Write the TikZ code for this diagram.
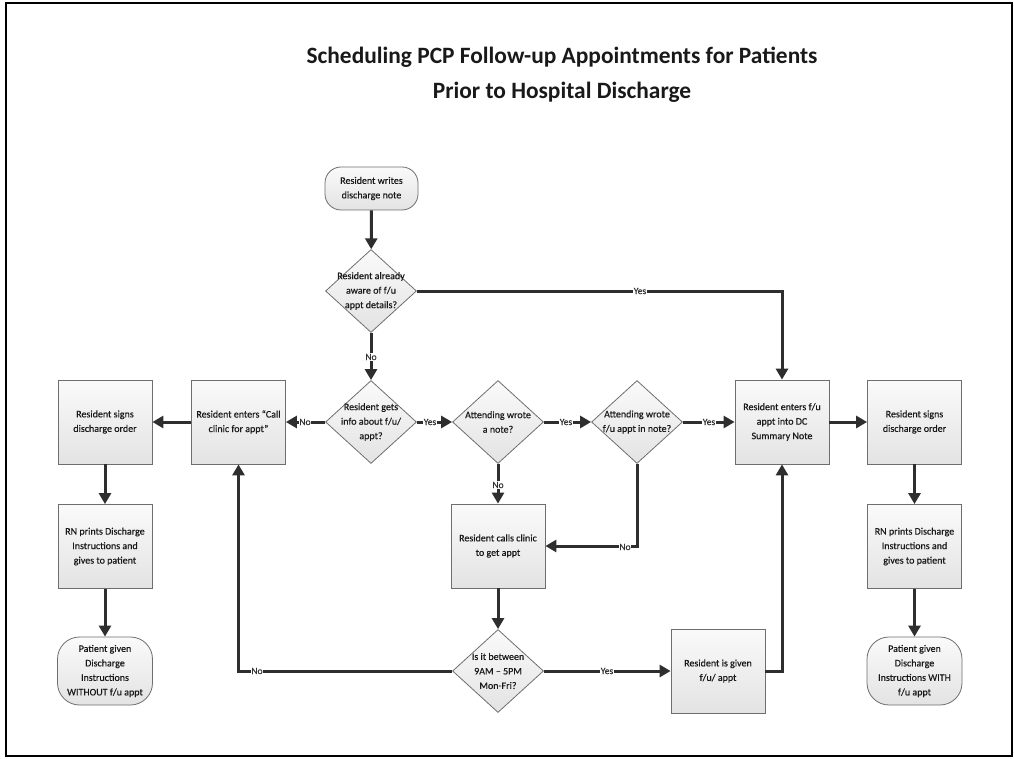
\documentclass[tikz,border=0pt]{standalone}
\usepackage{fontspec}
\setmainfont{Carlito}
\newfontfamily\nodefont[FakeBold=0.4]{Carlito}
\usetikzlibrary{shapes.geometric,arrows.meta}
\definecolor{connc}{HTML}{2E2E2E}
\definecolor{bord}{HTML}{6E6E6E}
\begin{document}
\begin{tikzpicture}[x=1pt,y=-1pt,
  base/.style={draw=bord, line width=0.8pt, top color=black!2, bottom color=black!11, align=center, font=\nodefont\fontsize{10}{14.5}\selectfont, text=black!90, inner sep=2pt},
  box/.style={base, rectangle, minimum width=94pt, minimum height=84pt},
  term/.style={base, rectangle, rounded corners=22pt, minimum width=95pt, minimum height=68pt},
  dia/.style={base, diamond, minimum width=91pt, minimum height=83pt, inner sep=0pt},
  diatxt/.style={align=center, font=\nodefont\fontsize{10}{14.5}\selectfont, text=black!90, inner sep=0pt},
  conn/.style={draw=connc, line width=3pt, -{Triangle[length=11pt,width=12pt]}},
  lbl/.style={fill=white, inner sep=0.8pt, font=\nodefont\fontsize{9.5}{10}\selectfont, text=black!80},
]
\useasboundingbox (0,0) rectangle (1014,759);
\draw[line width=2.5pt] (6,3) rectangle (1012,756);

\node[font=\fontsize{23.4}{35}\selectfont\bfseries, align=center, text=black!90] (title) at (562,75)
  {Scheduling PCP Follow-up Appointments for Patients\\Prior to Hospital Discharge};

% nodes
\node[base, rectangle, rounded corners=16pt, minimum width=93pt, minimum height=43pt] (start) at (371.5,188.5) {Resident writes\\discharge note};
\node[dia, label={[diatxt]center:Resident already\\aware of f/u\\appt details?}] (d1) at (371,291) {};
\node[dia, label={[diatxt]center:Resident gets\\info about f/u/\\appt?}] (d2) at (371,422) {};
\node[dia, label={[diatxt]center:Attending wrote\\a note?}] (d3) at (498,422) {};
\node[dia, label={[diatxt]center:Attending wrote\\f/u appt in note?}] (d4) at (637,422) {};
\node[dia, label={[diatxt]center:Is it between\\9AM – 5PM\\Mon-Fri?}] (d5) at (498,671) {};

\node[box] (call) at (238.5,422) {Resident enters “Call\\clinic for appt”};
\node[box] (signL) at (105,422) {Resident signs\\discharge order};
\node[box] (rnL) at (105,546.5) {RN prints Discharge\\Instructions and\\gives to patient};
\node[term] (endL) at (105,671) {Patient given\\Discharge\\Instructions\\WITHOUT f/u appt};

\node[box] (dc) at (782,422) {Resident enters f/u\\appt into DC\\Summary Note};
\node[box] (signR) at (914.5,422) {Resident signs\\discharge order};
\node[box] (rnR) at (914.5,546.5) {RN prints Discharge\\Instructions and\\gives to patient};
\node[term] (endR) at (914.5,671) {Patient given\\Discharge\\Instructions WITH\\f/u appt};

\node[box] (calls) at (498,546) {Resident calls clinic\\to get appt};
\node[box] (given) at (718,671) {Resident is given\\f/u/ appt};

% connectors
\draw[conn] (start) -- (d1);
\draw[conn] (d1.east) -| (dc.north);
\draw[conn] (d1) -- (d2);
\draw[conn] (d2) -- (call);
\draw[conn] (call) -- (signL);
\draw[conn] (signL) -- (rnL);
\draw[conn] (rnL) -- (endL);
\draw[conn] (d2) -- (d3);
\draw[conn] (d3) -- (d4);
\draw[conn] (d4) -- (dc);
\draw[conn] (dc) -- (signR);
\draw[conn] (signR) -- (rnR);
\draw[conn] (rnR) -- (endR);
\draw[conn] (d3) -- (calls);
\draw[conn] (d4.south) |- (calls.east);
\draw[conn] (calls) -- (d5);
\draw[conn] (d5) -- (given);
\draw[conn] (given.east) -| (dc.south);
\draw[conn] (d5.west) -| (call.south);

% labels
\node[lbl] (l1) at (640,291) {Yes};
\node[lbl] (l2) at (371,357) {No};
\node[lbl] (l3) at (305,422) {No};
\node[lbl] (l4) at (430,422) {Yes};
\node[lbl] (l5) at (566,422) {Yes};
\node[lbl] (l6) at (709,422) {Yes};
\node[lbl] (l7) at (498,485) {No};
\node[lbl] (l8) at (625,547) {No};
\node[lbl] (l9) at (607,671) {Yes};
\node[lbl] (l10) at (257,671) {No};
\end{tikzpicture}
\end{document}
